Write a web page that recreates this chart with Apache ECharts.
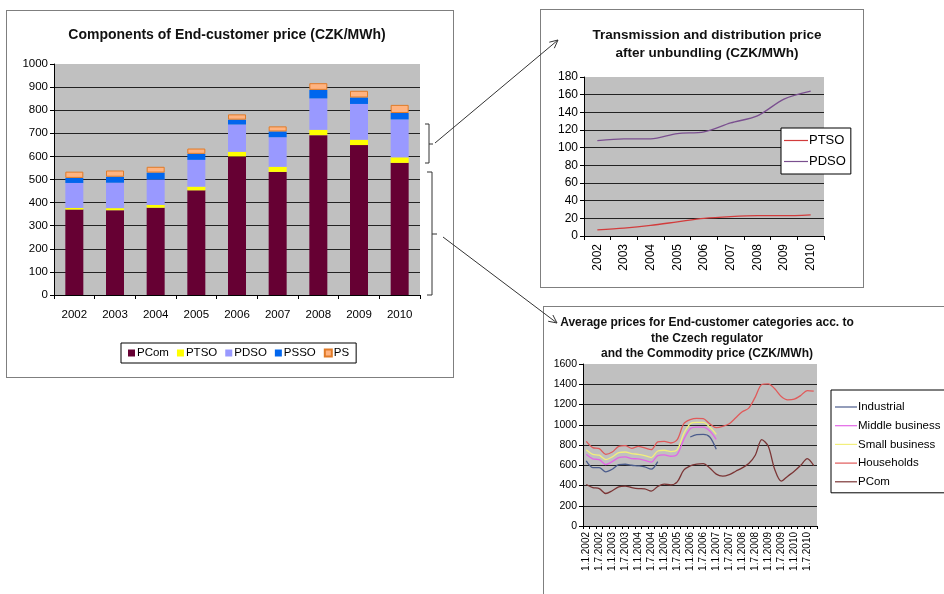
<!DOCTYPE html>
<html>
<head>
<meta charset="utf-8">
<script src="https://cdn.jsdelivr.net/npm/echarts@6/dist/echarts.min.js"></script>
<style>
  body { margin: 0; width: 944px; height: 594px; overflow: hidden; background: #fff; position: relative; }
  .box { position: absolute; background: #fff; border: 1px solid #7f7f7f; box-sizing: border-box; }
  #c1 { left: 6px; top: 10px; width: 448px; height: 368px; }
  #c2 { left: 540px; top: 9px; width: 324px; height: 279px; }
  #c3 { left: 543px; top: 306px; width: 401px; height: 300px; border-right: none; }
  #overlay { position: absolute; left: 0; top: 0; width: 944px; height: 594px; pointer-events: none; }
</style>
</head>
<body>
<div id="c1" class="box"></div>
<div id="c2" class="box"></div>
<div id="c3" class="box"></div>
<div id="overlay"></div>
<script>
// ---- data ----
const years = ['2002', '2003', '2004', '2005', '2006', '2007', '2008', '2009', '2010']
const pCom = [370, 367, 378, 453, 600, 533, 692, 649, 572]
const pTso = [7, 9, 12, 16, 20, 22, 23, 23, 24]
const pDso = [108, 110, 110, 116, 118, 128, 136, 155, 164]
const pSso = [22, 26, 30, 26, 21, 25, 37, 28, 28]
const pS = [27, 27, 25, 23, 23, 22, 29, 29, 35]

// quarterly, 1.1.2002 .. 1.10.2010
const quarters = [
  '1.1.2002', '1.4.2002', '1.7.2002', '1.10.2002',
  '1.1.2003', '1.4.2003', '1.7.2003', '1.10.2003',
  '1.1.2004', '1.4.2004', '1.7.2004', '1.10.2004',
  '1.1.2005', '1.4.2005', '1.7.2005', '1.10.2005',
  '1.1.2006', '1.4.2006', '1.7.2006', '1.10.2006',
  '1.1.2007', '1.4.2007', '1.7.2007', '1.10.2007',
  '1.1.2008', '1.4.2008', '1.7.2008', '1.10.2008',
  '1.1.2009', '1.4.2009', '1.7.2009', '1.10.2009',
  '1.1.2010', '1.4.2010', '1.7.2010', '1.10.2010'
]
const industrial = [643, 577, 577, 535, 561, 607, 610, 600, 594, 584, 561, 636,
  null, null, null, null, 879, 902, 905, 879, 758]
const middleBusiness = [708, 663, 656, 607, 636, 676, 682, 666, 663, 649, 630, 695,
  702, 689, 708, 853, 961, 977, 977, 938, 856]
const smallBusiness = [754, 708, 699, 656, 682, 725, 731, 715, 708, 695, 676, 741,
  748, 735, 754, 912, 1010, 1023, 1023, 977, 905]
const households = [836, 774, 764, 708, 731, 787, 794, 767, 787, 771, 754, 830,
  836, 820, 853, 1010, 1050, 1063, 1060, 1010, 971, 984, 1010, 1069,
  1128, 1164, 1273, 1397, 1404, 1355, 1279, 1246, 1253, 1289, 1338, 1332]
const pComQ = [410, 380, 370, 321, 348, 387, 394, 380, 370, 367, 344, 390,
  413, 407, 436, 551, 594, 612, 617, 574, 512, 492, 508, 541,
  574, 617, 699, 853, 787, 558, 443, 492, 541, 600, 666, 597]

const FONT = '"Liberation Sans", Arial, sans-serif'

function getDom(id) {
  return document.getElementById(id)
}

function excelYAxis(max, step, size) {
  return {
    type: 'value',
    min: 0,
    max: max,
    interval: step,
    axisLine: { show: true, lineStyle: { color: '#000' } },
    axisTick: { show: true, inside: false, length: 4, lineStyle: { color: '#000' } },
    axisLabel: { color: '#000', fontSize: size, fontFamily: FONT, margin: 6, formatter: v => String(v) },
    splitLine: { show: true, showMaxLine: false, lineStyle: { color: '#222', width: 1 } }
  }
}

(function () {
  // 柱状图 - components of end-customer price
  const chart1 = echarts.init(getDom('c1'))
  const bar = (name, data, color, border) => ({
    name: name,
    type: 'bar',
    stack: 'total',
    barWidth: 18,
    data: data,
    itemStyle: border ? { color: color, borderColor: border, borderWidth: 1 } : { color: color }
  })
  chart1.setOption({
    animation: false,
    title: {
      text: 'Components of End-customer price (CZK/MWh)',
      left: 220,
      textAlign: 'center',
      top: 17,
      padding: 0,
      textStyle: { fontSize: 14, fontWeight: 'bold', color: '#111', fontFamily: FONT }
    },
    legend: {
      left: 114,
      top: 332,
      padding: [4, 7],
      borderColor: '#000',
      borderWidth: 1,
      icon: 'rect',
      itemWidth: 7,
      itemHeight: 7,
      itemGap: 8,
      textStyle: { fontSize: 11.5, color: '#000', fontFamily: FONT, padding: [0, 0, 0, -3] },
      data: ['PCom', 'PTSO', 'PDSO', 'PSSO', 'PS']
    },
    grid: { left: 47, right: 33, top: 53, bottom: 82, show: true, backgroundColor: '#c0c0c0', borderWidth: 0 },
    xAxis: {
      type: 'category',
      data: years,
      axisLine: { lineStyle: { color: '#000' } },
      axisTick: { show: true, length: 4, lineStyle: { color: '#000' } },
      axisLabel: { color: '#000', fontSize: 11.5, fontFamily: FONT, margin: 14 }
    },
    yAxis: excelYAxis(1000, 100, 11.5),
    series: [
      bar('PCom', pCom, '#660033'),
      bar('PTSO', pTso, '#ffff00'),
      bar('PDSO', pDso, '#9999ff'),
      bar('PSSO', pSso, '#0066ee'),
      bar('PS', pS, '#ffb380', '#e07b28')
    ]
  })

  // 折线图 - transmission and distribution
  const chart2 = echarts.init(getDom('c2'))
  chart2.setOption({
    animation: false,
    title: {
      text: 'Transmission and distribution price\nafter unbundling (CZK/MWh)',
      left: 166,
      textAlign: 'center',
      top: 16,
      padding: 0,
      textStyle: { fontSize: 13.5, fontWeight: 'bold', color: '#111', lineHeight: 18, fontFamily: FONT }
    },
    legend: {
      orient: 'vertical',
      left: 240,
      top: 118,
      padding: [6, 5, 6, 3],
      borderColor: '#000',
      borderWidth: 1,
      backgroundColor: '#fff',
      icon: 'rect',
      itemWidth: 24,
      itemHeight: 1.2,
      itemGap: 8,
      textStyle: { fontSize: 13, color: '#000', fontFamily: FONT, padding: [0, 0, 0, -4] },
      data: ['PTSO', 'PDSO']
    },
    grid: { left: 43, right: 39, top: 67, bottom: 51, show: true, backgroundColor: '#c0c0c0', borderWidth: 0 },
    xAxis: {
      type: 'category',
      data: years,
      axisLine: { lineStyle: { color: '#000' } },
      axisTick: { show: true, length: 4, lineStyle: { color: '#000' } },
      axisLabel: { color: '#000', fontSize: 12, fontFamily: FONT, rotate: 90, margin: 8 }
    },
    yAxis: excelYAxis(180, 20, 12),
    series: [
      { name: 'PTSO', type: 'line', data: pTso, smooth: 0.3, symbol: 'none', lineStyle: { color: '#d23c3c', width: 1.3 }, itemStyle: { color: '#d23c3c' } },
      { name: 'PDSO', type: 'line', data: pDso, smooth: 0.3, symbol: 'none', lineStyle: { color: '#7a4f8f', width: 1.3 }, itemStyle: { color: '#7a4f8f' } }
    ]
  })

  // 折线图 - end-customer categories
  const chart3 = echarts.init(getDom('c3'))
  const line = (name, data, color) => ({
    name: name,
    type: 'line',
    data: data,
    smooth: 0.3,
    symbol: 'none',
    connectNulls: false,
    lineStyle: { color: color, width: 1.3 },
    itemStyle: { color: color }
  })
  chart3.setOption({
    animation: false,
    title: {
      text: 'Average prices for End-customer categories acc. to\nthe Czech regulator\nand the Commodity price (CZK/MWh)',
      left: 163,
      textAlign: 'center',
      top: 8,
      padding: 0,
      textStyle: { fontSize: 12, fontWeight: 'bold', color: '#111', lineHeight: 15.5, fontFamily: FONT }
    },
    legend: {
      orient: 'vertical',
      left: 287,
      top: 83,
      padding: [11, 10, 5, 4],
      borderColor: '#000',
      borderWidth: 1,
      icon: 'rect',
      itemWidth: 22,
      itemHeight: 1.2,
      itemGap: 6.7,
      textStyle: { fontSize: 11.5, color: '#000', fontFamily: FONT, padding: [0, 0, 0, -4] },
      data: ['Industrial', 'Middle business', 'Small business', 'Households', 'PCom']
    },
    grid: { left: 39, top: 57, width: 234, height: 162, show: true, backgroundColor: '#c0c0c0', borderWidth: 0 },
    xAxis: {
      type: 'category',
      data: quarters,
      axisLine: { lineStyle: { color: '#000' } },
      axisTick: { show: true, length: 3, interval: 0, lineStyle: { color: '#000' } },
      axisLabel: { color: '#000', fontSize: 10, fontFamily: FONT, rotate: 90, interval: 1, margin: 6 }
    },
    yAxis: excelYAxis(1600, 200, 10.5),
    series: [
      line('Industrial', industrial, '#4a5b8b'),
      line('Middle business', middleBusiness, '#e366e6'),
      line('Small business', smallBusiness, '#f2ef7c'),
      line('Households', households, '#e05a5a'),
      line('PCom', pComQ, '#7b3535')
    ]
  })

  // brackets and arrows linking the charts
  const overlay = echarts.init(getDom('overlay'))
  const stroke = { stroke: '#333', lineWidth: 1, fill: null }
  function arrow(x1, y1, x2, y2) {
    const a = Math.atan2(y2 - y1, x2 - x1)
    const h = 9
    const p1 = [x2 - h * Math.cos(a - 0.45), y2 - h * Math.sin(a - 0.45)]
    const p2 = [x2 - h * Math.cos(a + 0.45), y2 - h * Math.sin(a + 0.45)]
    return [
      { type: 'polyline', shape: { points: [[x1, y1], [x2, y2]] }, style: stroke },
      { type: 'polyline', shape: { points: [p1, [x2, y2], p2] }, style: stroke }
    ]
  }
  overlay.setOption({
    animation: false,
    graphic: [
      { type: 'polyline', shape: { points: [[425, 124], [429, 124], [429, 163], [425, 163]] }, style: stroke },
      { type: 'polyline', shape: { points: [[429, 144], [433, 144]] }, style: stroke },
      { type: 'polyline', shape: { points: [[427, 172], [432, 172], [432, 295], [427, 295]] }, style: stroke },
      { type: 'polyline', shape: { points: [[432, 234], [437, 234]] }, style: stroke }
    ].concat(arrow(435, 143, 558, 40), arrow(443, 237, 557, 323))
  })
})()
</script>
</body>
</html>
